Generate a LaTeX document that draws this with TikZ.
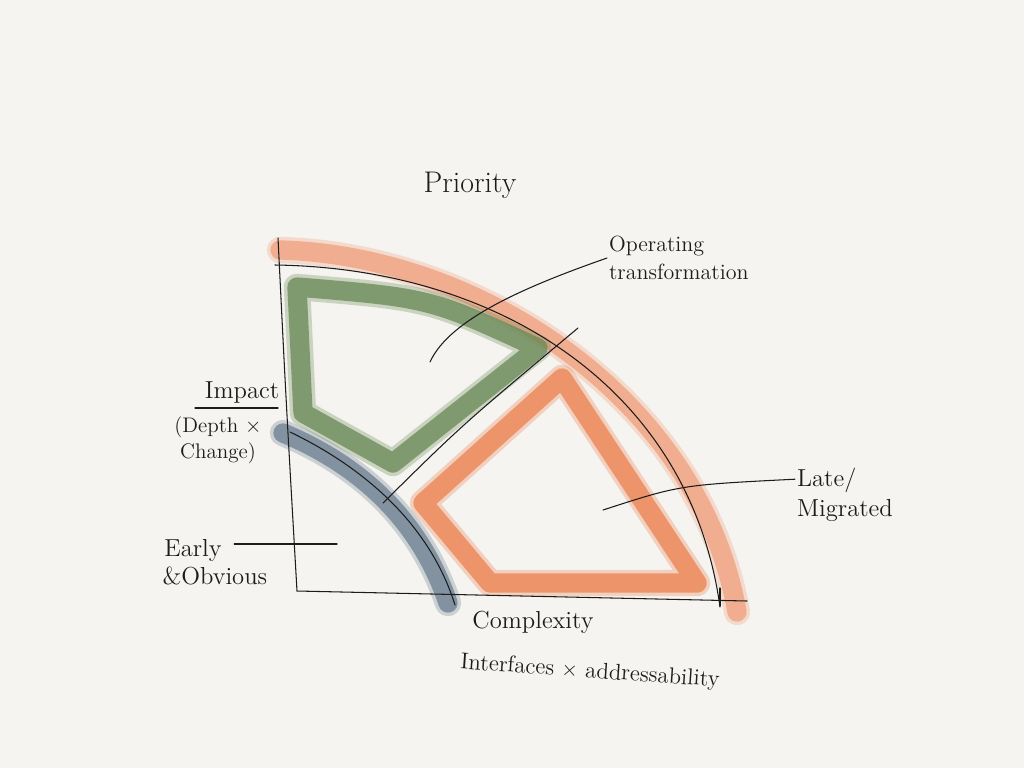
\documentclass[tikz,border=0pt]{standalone}
\usetikzlibrary{positioning}
\definecolor{paper}{RGB}{245,244,240}
\definecolor{pen}{RGB}{28,28,28}
\definecolor{lateorange}{RGB}{240,158,124}
\definecolor{migorange}{RGB}{236,128,78}
\definecolor{opgreen}{RGB}{104,136,84}
\definecolor{earlyblue}{RGB}{108,126,144}

\begin{document}
\begin{tikzpicture}[x=0.02cm, y=-0.02cm,
    pen/.style={draw=pen, line width=0.6pt, line cap=round},
    band/.style={draw=#1, line width=11pt, line join=round, line cap=round,
                 draw opacity=0.75,
                 preaction={draw=#1, line width=15pt, line join=round,
                            line cap=round, draw opacity=0.3}},
    hand/.style={font=\fontsize{14}{17}\selectfont, text=pen, inner sep=1pt}]
  \useasboundingbox (0,0) rectangle (1024,768);
  \fill[paper] (0,0) rectangle (1024,768);

  % soft marker strokes
  \draw[band=lateorange] (280,250) .. controls (480,255) and (700,400) .. (737,612);
  \draw[band=opgreen] (297,287) .. controls (430,298) .. (538,348)
    -- (393,463) -- (303,413) -- cycle;
  \draw[band=migorange] (562,378) -- (697,583) -- (490,583) -- (423,503) -- cycle;
  \draw[band=earlyblue] (283,433) .. controls (360,465) and (420,520) .. (448,603);

  % axes and pen lines
  \draw[pen] (278,238) .. controls (286,400) .. (297,591) -- (747,601);
  \draw[pen] (720,588) -- (720,606);
  \draw[pen] (275,265) .. controls (500,268) and (690,390) .. (720,607);
  \draw[pen] (290,432) .. controls (365,468) and (430,525) .. (455,605);
  \coordinate (splitlo) at (383,503);
  \coordinate (splithi) at (578,328);
  \draw[pen] (splitlo) .. controls (462,425) .. (splithi);

  % labels
  \node[hand, font=\fontsize{17}{20}\selectfont] (prio) at (470,185) {Priority};
  \node[hand, font=\fontsize{12.5}{16}\selectfont, align=left, anchor=west]
    (optr) at (607,258) {Operating\\transformation};
  \node[hand] (impact) at (242,392) {Impact};
  \coordinate (implo) at (195,408);
  \coordinate (imphi) at (278,408);
  \draw[pen] (implo) -- (imphi);
  \node[hand, font=\fontsize{12}{15}\selectfont, align=center]
    (depth) at (218,440) {(Depth $\times$\\Change)};
  \node[hand] (early) at (193,550) {Early};
  \node[hand, below right=1pt and -36pt of early] (obvious) {\&Obvious};
  \node[hand] (cplx) at (533,622) {Complexity};
  \node[hand, font=\fontsize{13}{16}\selectfont, rotate=-4]
    (iface) at (590,672) {Interfaces $\times$ addressability};
  \node[hand, align=left, anchor=west] (late) at (795,495) {Late/\\Migrated};

  % leaders
  \coordinate (opin) at (430,362);
  \draw[pen] (opin) .. controls (450,318) and (530,285) .. (optr.west);
  \coordinate (earlyin) at (337,544);
  \draw[pen] ([xshift=6pt]early.east |- earlyin) -- (earlyin);
  \coordinate (latein) at (603,510);
  \draw[pen] (latein) .. controls (680,485) .. ([yshift=9pt]late.west);
\end{tikzpicture}
\end{document}
